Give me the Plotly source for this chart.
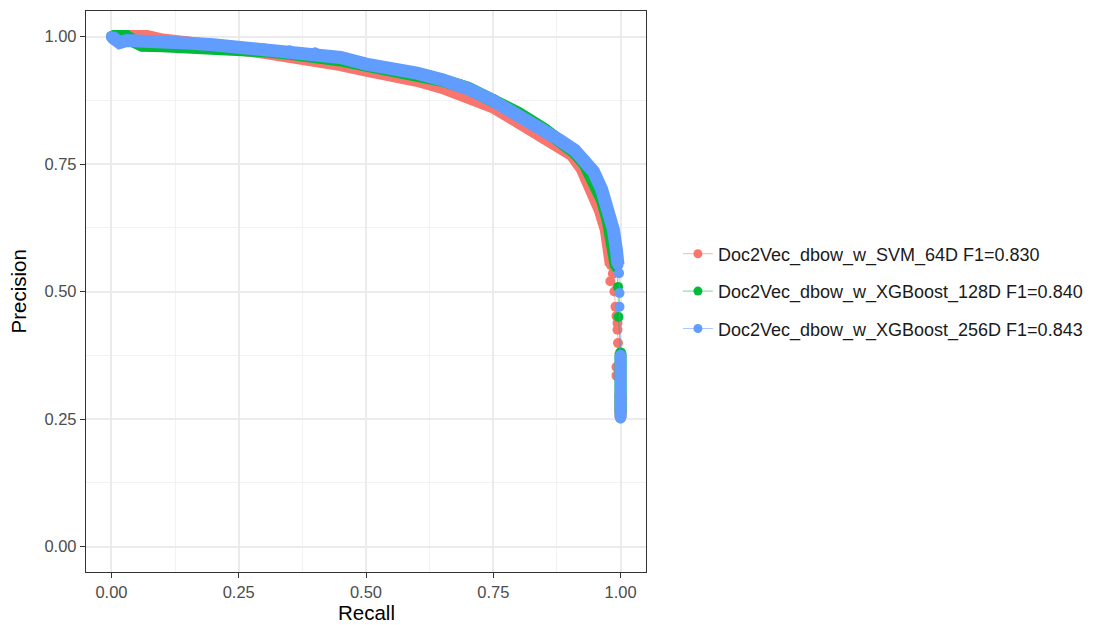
import plotly.graph_objects as go

# ---------------- data ----------------
series_names = [
    "Doc2Vec_dbow_w_SVM_64D F1=0.830",
    "Doc2Vec_dbow_w_XGBoost_128D F1=0.840",
    "Doc2Vec_dbow_w_XGBoost_256D F1=0.843",
]
series_colors = ["#F8766D", "#00BA38", "#619CFF"]
series_line_colors = ["rgba(248,118,109,0.55)", "rgba(0,186,56,0.55)", "rgba(97,156,255,0.55)"]

# SVM 64D
svm_recall = [0.000, 0.030, 0.070, 0.100, 0.150, 0.200, 0.250, 0.300, 0.350, 0.400,
              0.450, 0.500, 0.550, 0.600, 0.650, 0.700, 0.750, 0.800, 0.850, 0.880,
              0.905, 0.925, 0.945, 0.960, 0.972, 0.978, 0.982]
svm_precision = [1.000, 1.000, 1.000, 0.993, 0.989, 0.982, 0.976, 0.969, 0.963, 0.955,
                 0.945, 0.934, 0.925, 0.914, 0.900, 0.884, 0.862, 0.832, 0.800, 0.783,
                 0.768, 0.740, 0.700, 0.660, 0.621, 0.581, 0.552]
svm_tail_recall = [0.985, 0.980, 0.988, 0.990, 0.992, 0.994, 0.994, 0.995, 0.992, 0.992]
svm_tail_precision = [0.535, 0.520, 0.500, 0.470, 0.452, 0.438, 0.425, 0.399, 0.352, 0.335]
svm_stack_recall = [1.000, 1.000]
svm_stack_precision = [0.300, 0.252]

# XGBoost 128D
xgb128_recall = [0.000, 0.030, 0.045, 0.060, 0.100, 0.150, 0.200, 0.250, 0.300, 0.350,
                 0.400, 0.450, 0.500, 0.550, 0.600, 0.650, 0.700, 0.750, 0.800, 0.850,
                 0.880, 0.910, 0.930, 0.950, 0.965, 0.976, 0.984, 0.988, 0.992]
xgb128_precision = [1.000, 1.000, 0.990, 0.983, 0.982, 0.981, 0.978, 0.976, 0.972, 0.967,
                    0.962, 0.954, 0.944, 0.936, 0.926, 0.914, 0.899, 0.877, 0.849, 0.818,
                    0.798, 0.773, 0.750, 0.714, 0.678, 0.638, 0.600, 0.570, 0.548]
xgb128_tail_recall = [0.995, 0.996]
xgb128_tail_precision = [0.509, 0.450]
xgb128_stack_recall = [1.000, 1.000]
xgb128_stack_precision = [0.380, 0.260]

# XGBoost 256D
xgb256_recall = [0.000, 0.008, 0.016, 0.030, 0.060, 0.100, 0.150, 0.200, 0.250, 0.300,
                 0.350, 0.400, 0.450, 0.500, 0.550, 0.600, 0.650, 0.700, 0.750, 0.800,
                 0.850, 0.880, 0.910, 0.930, 0.947, 0.963, 0.975, 0.986, 0.992, 0.995]
xgb256_precision = [1.000, 0.994, 0.988, 0.992, 0.992, 0.990, 0.987, 0.984, 0.979, 0.976,
                    0.972, 0.968, 0.959, 0.946, 0.938, 0.928, 0.915, 0.898, 0.874, 0.846,
                    0.815, 0.797, 0.777, 0.757, 0.735, 0.700, 0.660, 0.621, 0.581, 0.552]
xgb256_tail_recall = [0.997, 0.998, 0.998]
xgb256_tail_precision = [0.536, 0.497, 0.470]
xgb256_stack_recall = [1.000, 1.000]
xgb256_stack_precision = [0.375, 0.252]

baseline_precision = 0.25

x_ticks = [0.0, 0.25, 0.5, 0.75, 1.0]
y_ticks = [0.0, 0.25, 0.5, 0.75, 1.0]
x_tick_labels = ["0.00", "0.25", "0.50", "0.75", "1.00"]
y_tick_labels = ["0.00", "0.25", "0.50", "0.75", "1.00"]
x_title = "Recall"
y_title = "Precision"

FONT = "Liberation Sans, Arial, Helvetica, sans-serif"

all_series = [
    (svm_recall, svm_precision, svm_tail_recall, svm_tail_precision, svm_stack_recall, svm_stack_precision),
    (xgb128_recall, xgb128_precision, xgb128_tail_recall, xgb128_tail_precision, xgb128_stack_recall, xgb128_stack_precision),
    (xgb256_recall, xgb256_precision, xgb256_tail_recall, xgb256_tail_precision, xgb256_stack_recall, xgb256_stack_precision),
]

fig = go.Figure()

BAND_W = 13
PT_SIZE = 11

for i, (rc, pc, rt, pt, rs, ps) in enumerate(all_series):
    col = series_colors[i]
    # thin connecting line through all points
    fig.add_trace(go.Scatter(x=rc + rt + rs, y=pc + pt + ps, mode="lines",
                             line=dict(color=series_line_colors[i], width=1),
                             showlegend=False, hoverinfo="skip"))
    # dense point band of the main curve
    fig.add_trace(go.Scatter(x=rc, y=pc, mode="lines+markers",
                             line=dict(color=col, width=BAND_W),
                             marker=dict(color=col, size=PT_SIZE),
                             showlegend=False, hoverinfo="skip"))
    # scattered tail points
    fig.add_trace(go.Scatter(x=rt, y=pt, mode="markers",
                             marker=dict(color=col, size=PT_SIZE - 1),
                             showlegend=False, hoverinfo="skip"))
    # stacked points at recall = 1
    fig.add_trace(go.Scatter(x=rs, y=ps, mode="lines+markers",
                             line=dict(color=col, width=BAND_W - 1),
                             marker=dict(color=col, size=PT_SIZE),
                             showlegend=False, hoverinfo="skip"))

# legend entries
for i, name in enumerate(series_names):
    fig.add_trace(go.Scatter(x=[None], y=[None], mode="lines+markers", name=name,
                             legendgroup=f"g{i}",
                             line=dict(color=series_line_colors[i], width=1),
                             marker=dict(color=series_colors[i], size=9)))

fig.add_shape(type="line", xref="paper", yref="y", x0=0, x1=1,
              y0=baseline_precision, y1=baseline_precision,
              line=dict(color="#aaaaaa", width=1.4, dash="dot"), layer="below")

axis_common = dict(
    showline=True, linecolor="#333333", linewidth=1.3, mirror=True,
    ticks="outside", ticklen=5, tickwidth=1.3, tickcolor="#333333",
    tickfont=dict(family=FONT, size=16.5, color="#4D4D4D"),
    showgrid=True, gridcolor="#EBEBEB", gridwidth=1.6,
    zeroline=False, automargin=False,
    minor=dict(showgrid=True, gridcolor="#F2F2F2", gridwidth=0.9, tick0=0.125, dtick=0.25, ticks=""),
)

fig.update_xaxes(range=[-0.05, 1.05], tickvals=x_ticks, ticktext=x_tick_labels, **axis_common)
fig.update_yaxes(range=[-0.05, 1.05], tickvals=y_ticks, ticktext=y_tick_labels, **axis_common)

fig.add_annotation(text=x_title, xref="paper", yref="paper", x=0.5, y=-0.0945,
                   xanchor="center", yanchor="bottom", showarrow=False, borderpad=0,
                   font=dict(family=FONT, size=20.5, color="#000000"))
fig.add_annotation(text=y_title, xref="paper", yref="paper", x=-0.1214, y=0.5,
                   xanchor="center", yanchor="middle", showarrow=False, textangle=-90,
                   font=dict(family=FONT, size=20.5, color="#000000"))

fig.update_layout(
    width=1112, height=625,
    margin=dict(l=86, r=466, t=11, b=53),
    paper_bgcolor="white", plot_bgcolor="white",
    font=dict(family=FONT),
    legend=dict(x=1.057, xanchor="left", y=0.5, yanchor="middle",
                font=dict(family=FONT, size=18, color="#1a1a1a"),
                tracegroupgap=11, bgcolor="rgba(0,0,0,0)", borderwidth=0),
)

fig.write_html("out.html")
